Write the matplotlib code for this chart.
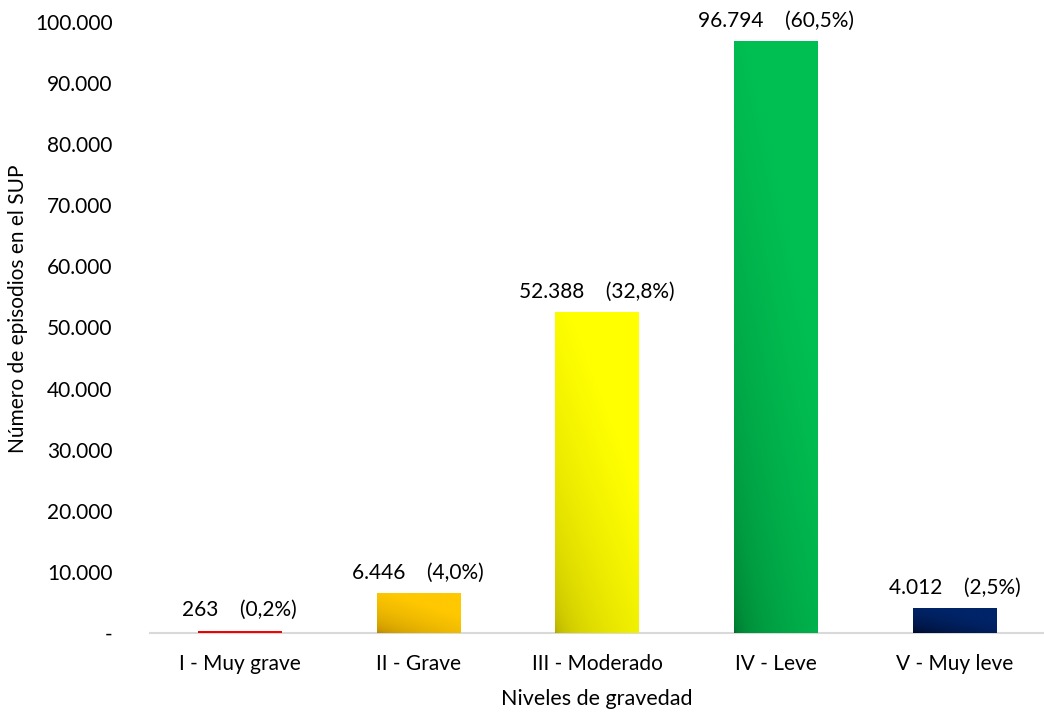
import numpy as np
import matplotlib
matplotlib.use("Agg")
import matplotlib.pyplot as plt
from matplotlib.colors import LinearSegmentedColormap

plt.rcParams['font.family'] = ['Lato', 'DejaVu Sans']

categories = ["I - Muy grave", "II - Grave", "III - Moderado", "IV - Leve", "V - Muy leve"]
episodes = [263, 6446, 52388, 96794, 4012]
# (dark corner, light corner) of each bar's fill
bar_shades = [("#c00000", "#ff0000"),
              ("#a47600", "#ffc800"),
              ("#a8a000", "#ffff00"),
              ("#006a28", "#00bf52"),
              ("#000010", "#002468")]
y_ticks = [0, 10000, 20000, 30000, 40000, 50000, 60000, 70000, 80000, 90000, 100000]


def fmt_thousands(v):
    return "-" if v == 0 else f"{v:,.0f}".replace(",", ".")


fig = plt.figure(figsize=(10.44, 7.14), dpi=100)
ax = fig.add_axes([150 / 1044, 81 / 714, 894 / 1044, 611 / 714])

x = np.arange(len(categories))
width = 0.465
total = sum(episodes)

bars = ax.bar(x, episodes, width=width, color="none", edgecolor="none")

# diagonal gradient: dark at bottom-left, light at top-right
gx, gy = np.meshgrid(np.linspace(0, 1, 64), np.linspace(0, 1, 256))
grad = np.clip(0.6 * gx + 0.9 * gy, 0, 1) ** 0.35
for bar, (dark, light) in zip(bars, bar_shades):
    x0, w, h = bar.get_x(), bar.get_width(), bar.get_height()
    cmap = LinearSegmentedColormap.from_list("g", [dark, light])
    ax.imshow(grad, cmap=cmap, origin="lower", aspect="auto",
              extent=(x0, x0 + w, 0, h), interpolation="bilinear",
              vmin=0, vmax=1, zorder=4)

for xi, v in zip(x, episodes):
    pct = f"{100 * v / total:.1f}".replace(".", ",")
    ax.annotate(f"{fmt_thousands(v)}    ({pct}%)", (xi, v), xytext=(0, 8),
                textcoords="offset points", ha="center", va="bottom",
                fontsize=15, color="#000000")

ax.set_xlim(-0.5, len(categories) - 0.5)
ax.set_ylim(0, 100000)
ax.set_yticks(y_ticks)
ax.set_yticklabels([fmt_thousands(t) for t in y_ticks])
ax.set_xticks(x)
ax.set_xticklabels(categories)
ax.tick_params(axis="both", length=0, labelsize=15, colors="#000000")
ax.tick_params(axis="y", pad=27)
ax.tick_params(axis="x", pad=15)

for s in ("top", "right", "left"):
    ax.spines[s].set_visible(False)
ax.spines["bottom"].set_color("#d9d9d9")
ax.spines["bottom"].set_linewidth(1.5)
ax.spines["bottom"].set_zorder(3)

ax.set_xlabel("Niveles de gravedad", fontsize=15.5, labelpad=11)
ax.set_ylabel("Número de episodios en el SUP", fontsize=15)
ax.yaxis.set_label_coords(-0.137, 0.53)

fig.savefig("out.png", dpi=100)
